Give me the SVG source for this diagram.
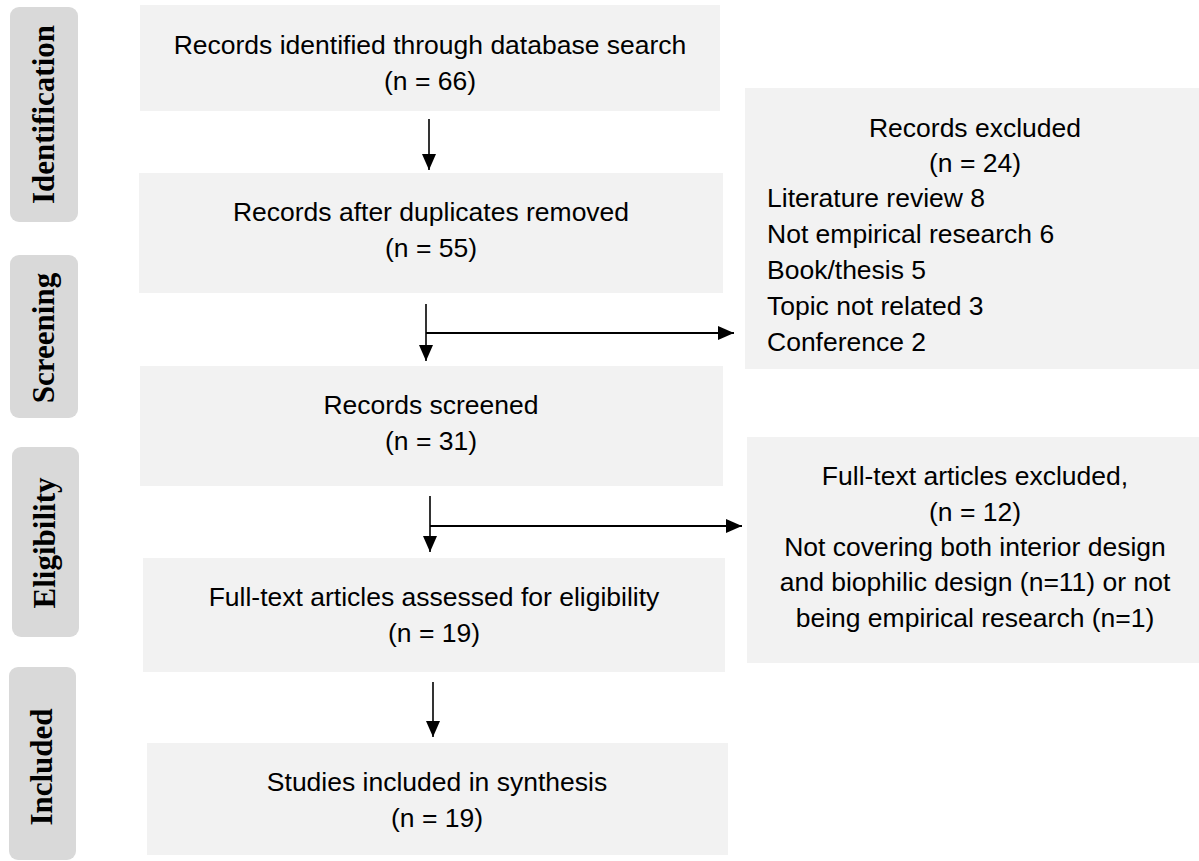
<svg xmlns="http://www.w3.org/2000/svg" width="1199" height="861" viewBox="0 0 1199 861">
<defs>
<style>
.box{fill:#f2f2f2;}
.lab{fill:#d9d9d9;}
.t{font-family:"Liberation Sans",Arial,sans-serif;font-size:26.5px;fill:#000;}
.c{text-anchor:middle;}
.lt{font-family:"Liberation Serif","Times New Roman",serif;font-size:31px;font-weight:bold;fill:#000;text-anchor:middle;}
.ln{stroke:#000;stroke-width:1.6;fill:none;}
.lh{stroke:#000;stroke-width:2.2;fill:none;}
</style>
<marker id="ah" markerUnits="userSpaceOnUse" markerWidth="16" markerHeight="14" refX="16" refY="7" orient="auto">
<path d="M0,0 L16,7 L0,14 Z" fill="#000"/>
</marker>
</defs>
<rect width="1199" height="861" fill="#fff"/>

<g id="label-identification">
<rect class="lab" x="10" y="7" width="68" height="215" rx="9"/>
<text class="lt" transform="translate(54,114.5) rotate(-90)">Identification</text>
</g>
<g id="label-screening">
<rect class="lab" x="10" y="255" width="68" height="163" rx="9"/>
<text class="lt" transform="translate(54,338) rotate(-90)">Screening</text>
</g>
<g id="label-eligibility">
<rect class="lab" x="12" y="447" width="67" height="190" rx="9"/>
<text class="lt" transform="translate(55,543) rotate(-90)">Eligibility</text>
</g>
<g id="label-included">
<rect class="lab" x="9" y="667" width="67" height="193" rx="9"/>
<text class="lt" transform="translate(52,767) rotate(-90)">Included</text>
</g>

<g id="node-identified">
<rect class="box" x="140" y="5" width="580" height="106"/>
<text class="t c" x="430" y="54">Records identified through database search</text>
<text class="t c" x="430" y="90">(n = 66)</text>
</g>
<g id="node-duplicates">
<rect class="box" x="139" y="173" width="584" height="120"/>
<text class="t c" x="431" y="221">Records after duplicates removed</text>
<text class="t c" x="431" y="257">(n = 55)</text>
</g>
<g id="node-screened">
<rect class="box" x="140" y="366" width="583" height="120"/>
<text class="t c" x="431" y="414">Records screened</text>
<text class="t c" x="431" y="450">(n = 31)</text>
</g>
<g id="node-fulltext">
<rect class="box" x="143" y="558" width="582" height="114"/>
<text class="t c" x="434" y="606">Full-text articles assessed for eligibility</text>
<text class="t c" x="434" y="642">(n = 19)</text>
</g>
<g id="node-included">
<rect class="box" x="147" y="743" width="581" height="112"/>
<text class="t c" x="437" y="791">Studies included in synthesis</text>
<text class="t c" x="437" y="827">(n = 19)</text>
</g>
<g id="node-excluded">
<rect class="box" x="745" y="88" width="454" height="281"/>
<text class="t c" x="975" y="137">Records excluded</text>
<text class="t c" x="975" y="172">(n = 24)</text>
<text class="t" x="767" y="207">Literature review 8</text>
<text class="t" x="767" y="243">Not empirical research 6</text>
<text class="t" x="767" y="279">Book/thesis 5</text>
<text class="t" x="767" y="315">Topic not related 3</text>
<text class="t" x="767" y="351">Conference 2</text>
</g>
<g id="node-fulltext-excluded">
<rect class="box" x="747" y="437" width="452" height="226"/>
<text class="t c" x="975" y="485">Full-text articles excluded,</text>
<text class="t c" x="975" y="521">(n = 12)</text>
<text class="t c" x="975" y="556">Not covering both interior design</text>
<text class="t c" x="975" y="591">and biophilic design (n=11) or not</text>
<text class="t c" x="975" y="627">being empirical research (n=1)</text>
</g>

<g id="connectors">
<line class="ln" x1="429" y1="119" x2="429" y2="170" marker-end="url(#ah)"/>
<line class="ln" x1="426" y1="304" x2="426" y2="361" marker-end="url(#ah)"/>
<line class="lh" x1="426" y1="333" x2="734" y2="333" marker-end="url(#ah)"/>
<line class="ln" x1="430" y1="496" x2="430" y2="552" marker-end="url(#ah)"/>
<line class="lh" x1="430" y1="526" x2="742" y2="526" marker-end="url(#ah)"/>
<line class="ln" x1="433" y1="682" x2="433" y2="737" marker-end="url(#ah)"/>
</g>
</svg>
